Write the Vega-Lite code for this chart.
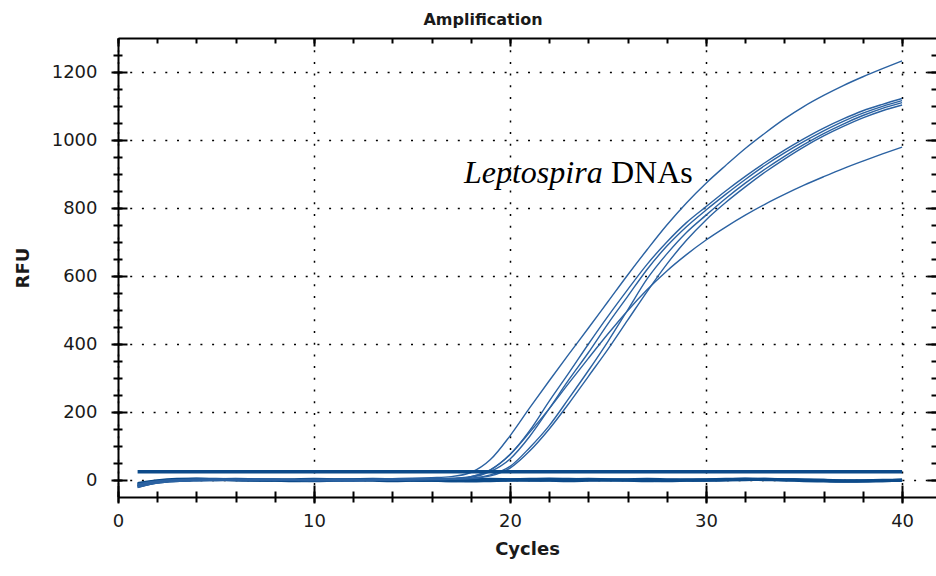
{
  "$schema": "https://vega.github.io/schema/vega-lite/v6.json",
  "width": 818,
  "height": 459,
  "autosize": "none",
  "padding": {"left": 118, "top": 38, "right": 0, "bottom": 79},
  "background": "white",
  "view": {"stroke": null},
  "title": {"text": "Amplification", "font": "DejaVu Sans", "fontSize": 16, "fontWeight": "bold", "color": "#1a1a1a", "anchor": "middle", "dx": -44, "offset": -4, "baseline": "alphabetic"},
  "config": {
    "axis": {"domainColor": "#000", "tickColor": "#000", "domainWidth": 2, "tickWidth": 2, "labelFont": "DejaVu Sans", "labelFontSize": 18, "labelColor": "#1a1a1a", "titleFont": "DejaVu Sans", "titleFontSize": 18, "titleFontWeight": "bold", "titleColor": "#1a1a1a", "labelFlush": false}
  },
  "datasets": {
    "curves": [
      {"c":1,"A":-18,"B":-15,"C":-20,"D":-12,"E":-16,"F":-22,"N1":-14,"N2":-19,"N3":-10},
      {"c":2,"A":-6,"B":-4,"C":-8,"D":-3,"E":-5,"F":-9,"N1":-4,"N2":-7,"N3":-2},
      {"c":3,"A":-1,"B":1,"C":-3,"D":0,"E":-2,"F":-4,"N1":0,"N2":-2,"N3":2},
      {"c":4,"A":1,"B":2,"C":-1,"D":2,"E":0,"F":-2,"N1":2,"N2":0,"N3":3},
      {"c":5,"A":2,"B":1,"C":0,"D":3,"E":1,"F":-1,"N1":1,"N2":1,"N3":2},
      {"c":6,"A":1,"B":0,"C":1,"D":2,"E":2,"F":0,"N1":0,"N2":2,"N3":1},
      {"c":7,"A":0,"B":-1,"C":2,"D":1,"E":3,"F":1,"N1":-1,"N2":1,"N3":0},
      {"c":8,"A":-1,"B":0,"C":1,"D":0,"E":2,"F":2,"N1":0,"N2":0,"N3":-1},
      {"c":9,"A":0,"B":1,"C":0,"D":-1,"E":1,"F":1,"N1":1,"N2":-1,"N3":-2},
      {"c":10,"A":1,"B":2,"C":-1,"D":-2,"E":0,"F":0,"N1":2,"N2":-2,"N3":-1},
      {"c":11,"A":2,"B":1,"C":-2,"D":-1,"E":-1,"F":-1,"N1":1,"N2":-1,"N3":0},
      {"c":12,"A":2,"B":0,"C":-1,"D":0,"E":-2,"F":-2,"N1":0,"N2":0,"N3":1},
      {"c":13,"A":3,"B":0,"C":0,"D":1,"E":-1,"F":-1,"N1":-1,"N2":1,"N3":2},
      {"c":14,"A":4,"B":1,"C":1,"D":1,"E":0,"F":0,"N1":-2,"N2":1,"N3":1},
      {"c":15,"A":5,"B":2,"C":2,"D":2,"E":1,"F":0,"N1":-1,"N2":0,"N3":0},
      {"c":16,"A":7,"B":3,"C":3,"D":2,"E":1,"F":1,"N1":0,"N2":-1,"N3":-1},
      {"c":17,"A":10,"B":5,"C":4,"D":3,"E":2,"F":3,"N1":1,"N2":-2,"N3":-2},
      {"c":18,"A":22,"B":10,"C":8,"D":5,"E":4,"F":10,"N1":1,"N2":-1,"N3":-3},
      {"c":19,"A":60,"B":30,"C":25,"D":15,"E":12,"F":30,"N1":2,"N2":0,"N3":-2},
      {"c":20,"A":130,"B":75,"C":62,"D":40,"E":35,"F":75,"N1":1,"N2":1,"N3":-1},
      {"c":21,"A":212,"B":145,"C":128,"D":95,"E":85,"F":140,"N1":0,"N2":2,"N3":-1},
      {"c":22,"A":292,"B":232,"C":210,"D":160,"E":150,"F":210,"N1":-1,"N2":3,"N3":0},
      {"c":23,"A":370,"B":315,"C":295,"D":240,"E":225,"F":285,"N1":-2,"N2":2,"N3":1},
      {"c":24,"A":447,"B":400,"C":375,"D":322,"E":305,"F":358,"N1":-1,"N2":1,"N3":2},
      {"c":25,"A":525,"B":482,"C":460,"D":408,"E":385,"F":430,"N1":0,"N2":0,"N3":1},
      {"c":26,"A":603,"B":560,"C":540,"D":500,"E":470,"F":498,"N1":1,"N2":-1,"N3":0},
      {"c":27,"A":678,"B":635,"C":620,"D":592,"E":555,"F":560,"N1":2,"N2":-2,"N3":-1},
      {"c":28,"A":750,"B":700,"C":688,"D":665,"E":635,"F":615,"N1":1,"N2":-1,"N3":-2},
      {"c":29,"A":815,"B":757,"C":745,"D":728,"E":705,"F":663,"N1":0,"N2":0,"N3":-1},
      {"c":30,"A":873,"B":804,"C":794,"D":779,"E":765,"F":706,"N1":-1,"N2":1,"N3":0},
      {"c":31,"A":925,"B":850,"C":840,"D":828,"E":816,"F":744,"N1":0,"N2":2,"N3":1},
      {"c":32,"A":975,"B":893,"C":884,"D":873,"E":862,"F":779,"N1":1,"N2":3,"N3":2},
      {"c":33,"A":1020,"B":933,"C":925,"D":914,"E":905,"F":811,"N1":2,"N2":2,"N3":1},
      {"c":34,"A":1062,"B":970,"C":962,"D":952,"E":944,"F":840,"N1":1,"N2":1,"N3":0},
      {"c":35,"A":1099,"B":1004,"C":996,"D":987,"E":980,"F":867,"N1":0,"N2":0,"N3":-2},
      {"c":36,"A":1131,"B":1035,"C":1027,"D":1019,"E":1012,"F":892,"N1":-1,"N2":-1,"N3":-3},
      {"c":37,"A":1160,"B":1062,"C":1055,"D":1047,"E":1040,"F":916,"N1":-2,"N2":-3,"N3":-4},
      {"c":38,"A":1186,"B":1086,"C":1079,"D":1072,"E":1065,"F":938,"N1":-3,"N2":-2,"N3":-3},
      {"c":39,"A":1210,"B":1105,"C":1099,"D":1093,"E":1086,"F":959,"N1":-2,"N2":-1,"N3":-2},
      {"c":40,"A":1233,"B":1122,"C":1116,"D":1110,"E":1103,"F":979,"N1":-1,"N2":0,"N3":-1}
    ],
    "threshold": [{"c": 1, "T": 24}, {"c": 40, "T": 24}],
    "labels": [{"label": "Leptospira"}],
    "labels2": [{"label": "DNAs"}]
  },
  "resolve": {"axis": {"x": "independent", "y": "independent"}},
  "layer": [
    {
      "data": {"name": "curves"},
      "transform": [{"fold": ["N1", "N2", "N3"], "as": ["s", "v"]}],
      "mark": {"type": "line", "interpolate": "monotone", "color": "#0c4a89", "strokeWidth": 3},
      "encoding": {
        "x": {"field": "c", "type": "quantitative", "scale": {"domain": [0, 41.73], "nice": false, "zero": false},
          "axis": {"orient": "bottom", "values": [0, 10, 20, 30, 40], "tickSize": 6, "labelPadding": 9, "grid": true, "gridColor": "#000", "gridDash": [2, 9.7], "gridWidth": 1.5, "title": "Cycles", "titlePadding": 10, "format": "d"}},
        "y": {"field": "v", "type": "quantitative", "scale": {"domain": [-50, 1300], "nice": false, "zero": false},
          "axis": {"orient": "left", "values": [0, 200, 400, 600, 800, 1000, 1200], "tickSize": 7, "labelPadding": 14, "grid": true, "gridColor": "#000", "gridDash": [2, 9.7], "gridWidth": 1.5, "title": "RFU", "titlePadding": 19, "format": "d"}},
        "detail": {"field": "s"}
      }
    },
    {
      "data": {"name": "curves"},
      "transform": [{"fold": ["A", "B", "C", "D", "E", "F"], "as": ["s", "v"]}],
      "mark": {"type": "line", "interpolate": "monotone", "color": "#2b62a2", "strokeWidth": 1.4},
      "encoding": {
        "x": {"field": "c", "type": "quantitative", "scale": {"domain": [0, 41.73], "nice": false, "zero": false}, "axis": null},
        "y": {"field": "v", "type": "quantitative", "scale": {"domain": [-50, 1300], "nice": false, "zero": false}, "axis": null},
        "detail": {"field": "s"}
      }
    },
    {
      "data": {"name": "threshold"},
      "mark": {"type": "line", "color": "#0c4a89", "strokeWidth": 3.5},
      "encoding": {
        "x": {"field": "c", "type": "quantitative", "scale": {"domain": [0, 41.73], "nice": false, "zero": false}, "axis": null},
        "y": {"field": "T", "type": "quantitative", "scale": {"domain": [-50, 1300], "nice": false, "zero": false}, "axis": null}
      }
    },
    {
      "data": {"name": "threshold"},
      "mark": {"type": "point", "opacity": 0},
      "encoding": {
        "x": {"field": "c", "type": "quantitative", "scale": {"domain": [0, 41.73], "nice": false, "zero": false},
          "axis": {"orient": "bottom", "values": [0,2,4,6,8,10,12,14,16,18,20,22,24,26,28,30,32,34,36,38,40], "tickSize": 5, "labels": false, "domain": false, "grid": false, "title": null}},
        "y": {"field": "T", "type": "quantitative", "scale": {"domain": [-50, 1300], "nice": false, "zero": false},
          "axis": {"orient": "left", "values": [0,50,100,150,200,250,300,350,400,450,500,550,600,650,700,750,800,850,900,950,1000,1050,1100,1150,1200,1250], "tickSize": 5, "labels": false, "domain": false, "grid": false, "title": null}}
      }
    },
    {
      "data": {"name": "threshold"},
      "mark": {"type": "point", "opacity": 0},
      "encoding": {
        "x": {"field": "c", "type": "quantitative", "scale": {"domain": [0, 41.73], "nice": false, "zero": false},
          "axis": {"orient": "bottom", "values": [0,2,4,6,8,10,12,14,16,18,20,22,24,26,28,30,32,34,36,38,40], "tickSize": -6, "labels": false, "domain": false, "grid": false, "title": null}},
        "y": {"field": "T", "type": "quantitative", "scale": {"domain": [-50, 1300], "nice": false, "zero": false},
          "axis": {"orient": "left", "values": [0,50,100,150,200,250,300,350,400,450,500,550,600,650,700,750,800,850,900,950,1000,1050,1100,1150,1200,1250], "tickSize": -4, "labels": false, "domain": false, "grid": false, "title": null}}
      }
    },
    {
      "data": {"name": "threshold"},
      "mark": {"type": "point", "opacity": 0},
      "encoding": {
        "x": {"field": "c", "type": "quantitative", "scale": {"domain": [0, 41.73], "nice": false, "zero": false},
          "axis": {"orient": "bottom", "values": [0, 10, 20, 30, 40], "tickSize": -12, "labels": false, "domain": false, "grid": false, "title": null}},
        "y": {"field": "T", "type": "quantitative", "scale": {"domain": [-50, 1300], "nice": false, "zero": false},
          "axis": {"orient": "left", "values": [0, 200, 400, 600, 800, 1000, 1200], "tickSize": -9, "labels": false, "domain": false, "grid": false, "title": null}}
      }
    },
    {
      "data": {"name": "threshold"},
      "mark": {"type": "point", "opacity": 0},
      "encoding": {
        "x": {"field": "c", "type": "quantitative", "scale": {"domain": [0, 41.73], "nice": false, "zero": false},
          "axis": {"orient": "top", "values": [0,2,4,6,8,10,12,14,16,18,20,22,24,26,28,30,32,34,36,38,40], "tickSize": -5, "labels": false, "domain": true, "grid": false, "title": null}},
        "y": {"field": "T", "type": "quantitative", "scale": {"domain": [-50, 1300], "nice": false, "zero": false},
          "axis": {"orient": "right", "values": [0,50,100,150,200,250,300,350,400,450,500,550,600,650,700,750,800,850,900,950,1000,1050,1100,1150,1200,1250], "tickSize": -5, "labels": false, "domain": false, "grid": false, "title": null}}
      }
    },
    {
      "data": {"name": "threshold"},
      "mark": {"type": "point", "opacity": 0},
      "encoding": {
        "x": {"field": "c", "type": "quantitative", "scale": {"domain": [0, 41.73], "nice": false, "zero": false},
          "axis": {"orient": "top", "values": [0, 10, 20, 30, 40], "tickSize": -8, "labels": false, "domain": false, "grid": false, "title": null}},
        "y": {"field": "T", "type": "quantitative", "scale": {"domain": [-50, 1300], "nice": false, "zero": false},
          "axis": {"orient": "right", "values": [0, 200, 400, 600, 800, 1000, 1200], "tickSize": -9, "labels": false, "domain": false, "grid": false, "title": null}}
      }
    },
    {
      "data": {"name": "labels"},
      "mark": {"type": "text", "font": "Liberation Serif", "fontSize": 32, "fontStyle": "italic", "align": "left", "baseline": "alphabetic", "color": "#000"},
      "encoding": {
        "x": {"datum": 17.65, "type": "quantitative", "scale": {"domain": [0, 41.73], "nice": false, "zero": false}, "axis": null},
        "y": {"datum": 875, "type": "quantitative", "scale": {"domain": [-50, 1300], "nice": false, "zero": false}, "axis": null},
        "text": {"field": "label"}
      }
    },
    {
      "data": {"name": "labels2"},
      "mark": {"type": "text", "font": "Liberation Serif", "fontSize": 32, "align": "left", "baseline": "alphabetic", "color": "#000"},
      "encoding": {
        "x": {"datum": 25.15, "type": "quantitative", "scale": {"domain": [0, 41.73], "nice": false, "zero": false}, "axis": null},
        "y": {"datum": 875, "type": "quantitative", "scale": {"domain": [-50, 1300], "nice": false, "zero": false}, "axis": null},
        "text": {"field": "label"}
      }
    }
  ]
}
